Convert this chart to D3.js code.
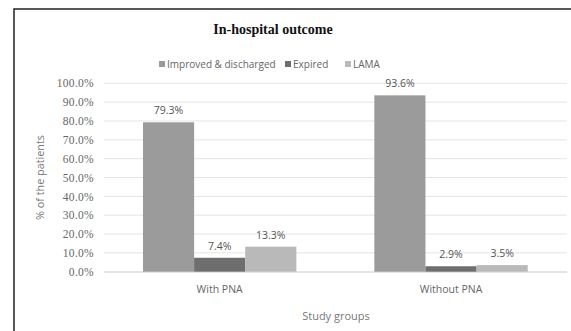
<!DOCTYPE html>
<html>
<head>
<meta charset="utf-8">
<script src="https://cdn.jsdelivr.net/npm/d3@7"></script>
<style>
  html, body { margin: 0; padding: 0; background: #fff; }
  svg { display: block; }
</style>
</head>
<body>
<div id="chart"></div>
<script>
// In-hospital outcome by study group (percent of patients)
const groups = ["With PNA", "Without PNA"];
const outcomes = ["Improved & discharged", "Expired", "LAMA"];
const improved = [79.3, 93.6];
const expired = [7.4, 2.9];
const lama = [13.3, 3.5];
const yTicks = [0, 10, 20, 30, 40, 50, 60, 70, 80, 90, 100];

const seriesValues = [improved, expired, lama];
const colors = ["#9b9b9b", "#6e6e6e", "#b9b9b9"];

const W = 571, H = 331;
const margin = { left: 104, right: 4.3, top: 83.3, bottom: 59.3 };
const sans = "'Open Sans', 'Noto Sans', sans-serif";
const serif = "'Liberation Serif', 'DejaVu Serif', serif";

const svg = d3.select("#chart").append("svg")
  .attr("width", W).attr("height", H);

// chart area frame
svg.append("rect")
  .attr("x", 14).attr("y", 9)
  .attr("width", W + 10).attr("height", H + 10)
  .attr("fill", "#fff")
  .attr("stroke", "#222").attr("stroke-width", 1.5);

const x0 = d3.scaleBand()
  .domain(groups)
  .range([margin.left, W - margin.right])
  .paddingInner(0.337)
  .paddingOuter(0.1685);

const x1 = d3.scaleBand()
  .domain(outcomes)
  .range([0, x0.bandwidth()]);

const y = d3.scaleLinear()
  .domain([0, 100])
  .range([H - margin.bottom, margin.top]);

// gridlines
svg.append("g")
  .selectAll("line")
  .data(yTicks)
  .join("line")
  .attr("x1", margin.left).attr("x2", W - margin.right)
  .attr("y1", d => y(d)).attr("y2", d => y(d))
  .attr("stroke", "#e4e4e4").attr("stroke-width", 1);

// y axis tick labels
const yAxis = d3.axisLeft(y)
  .tickValues(yTicks)
  .tickSize(0)
  .tickPadding(10)
  .tickFormat(d => d3.format(".1f")(d) + "%");

svg.append("g")
  .attr("transform", `translate(${margin.left},0)`)
  .call(yAxis)
  .call(g => g.select(".domain").remove())
  .call(g => g.selectAll("text")
    .attr("font-family", serif)
    .attr("font-size", 11.5)
    .attr("letter-spacing", 0.3)
    .attr("fill", "#666"));

// x axis category labels
const xAxis = d3.axisBottom(x0).tickSize(0).tickPadding(14);
svg.append("g")
  .attr("transform", `translate(0,${y(0)})`)
  .call(xAxis)
  .call(g => g.select(".domain")
    .attr("stroke", "#d9d9d9"))
  .call(g => g.selectAll("text")
    .attr("font-family", sans)
    .attr("font-size", 10.5)
    .attr("fill", "#666"));

// bars
const groupG = svg.append("g")
  .selectAll("g")
  .data(groups)
  .join("g")
  .attr("transform", d => `translate(${x0(d)},0)`);

groupG.selectAll("rect")
  .data((g, gi) => outcomes.map((o, si) => ({ o, v: seriesValues[si][gi], si })))
  .join("rect")
  .attr("x", d => x1(d.o))
  .attr("width", x1.bandwidth())
  .attr("y", d => y(d.v))
  .attr("height", d => y(0) - y(d.v))
  .attr("fill", d => colors[d.si]);

// value labels
groupG.selectAll("text.val")
  .data((g, gi) => outcomes.map((o, si) => ({ o, v: seriesValues[si][gi], si })))
  .join("text")
  .attr("class", "val")
  .attr("x", d => x1(d.o) + x1.bandwidth() / 2)
  .attr("y", d => y(d.v) - 8)
  .attr("text-anchor", "middle")
  .attr("font-family", sans)
  .attr("font-size", 10.5)
  .attr("fill", "#555")
  .text(d => d3.format(".1f")(d.v) + "%");

// title
svg.append("text")
  .attr("x", 273).attr("y", 34)
  .attr("text-anchor", "middle")
  .attr("font-family", serif)
  .attr("font-weight", "bold")
  .attr("font-size", 14)
  .attr("fill", "#111")
  .text("In-hospital outcome");

// legend
const legendX = [159, 285, 345];
const legend = svg.append("g")
  .selectAll("g")
  .data(outcomes)
  .join("g")
  .attr("transform", (d, i) => `translate(${legendX[i]},67.5)`);

legend.append("rect")
  .attr("x", 0).attr("y", -6.5)
  .attr("width", 6).attr("height", 6)
  .attr("fill", (d, i) => colors[i]);

legend.append("text")
  .attr("x", 8).attr("y", 0)
  .attr("font-family", sans)
  .attr("font-size", 10)
  .attr("fill", "#666")
  .text(d => d);

// axis titles
svg.append("text")
  .attr("transform", `translate(44,${(y(0) + y(100)) / 2}) rotate(-90)`)
  .attr("text-anchor", "middle")
  .attr("font-family", sans)
  .attr("font-size", 10.8)
  .attr("fill", "#777")
  .text("% of the patients");

svg.append("text")
  .attr("x", 336).attr("y", 320)
  .attr("text-anchor", "middle")
  .attr("font-family", sans)
  .attr("font-size", 11)
  .attr("fill", "#777")
  .text("Study groups");
</script>
</body>
</html>
